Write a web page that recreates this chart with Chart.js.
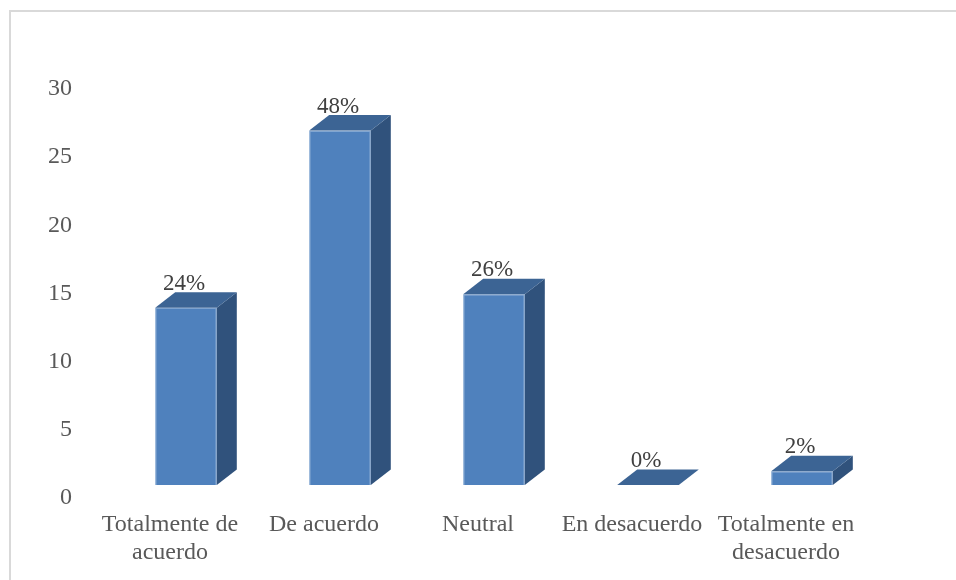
<!DOCTYPE html>
<html>
<head>
<meta charset="utf-8">
<script src="https://cdn.jsdelivr.net/npm/chart.js@4/dist/chart.umd.min.js"></script>
<style>
  html, body { margin: 0; padding: 0; background: #ffffff; }
  #wrap { position: relative; width: 956px; height: 580px; overflow: hidden; }
  canvas { display: block; }
</style>
</head>
<body>
<div id="wrap"><canvas id="c" width="956" height="580"></canvas></div>
<script>
const categories = [["Totalmente de", "acuerdo"], "De acuerdo", "Neutral", "En desacuerdo", ["Totalmente en", "desacuerdo"]];
const counts = [13, 26, 14, 0, 1];
const percentLabels = ["24%", "48%", "26%", "0%", "2%"];
const yTicks = [0, 5, 10, 15, 20, 25, 30];

const FONT = '"Liberation Serif", "Times New Roman", serif';
const FRONT = '#4F81BD';
const TOP = '#3C6494';
const SIDE = '#30527C';
const DX = 20, DY = 15.5;

const frame = {
  id: 'frame',
  beforeDraw(chart) {
    const ctx = chart.ctx;
    ctx.save();
    ctx.fillStyle = '#ffffff';
    ctx.fillRect(0, 0, chart.width, chart.height);
    ctx.strokeStyle = '#d9d9d9';
    ctx.lineWidth = 2;
    ctx.strokeRect(10, 11, chart.width + 20, chart.height + 20);
    ctx.restore();
  }
};

const bars3d = {
  id: 'bars3d',
  afterDatasetsDraw(chart) {
    const ctx = chart.ctx;
    const meta = chart.getDatasetMeta(0);
    ctx.save();
    meta.data.forEach((bar, i) => {
      const p = bar.getProps(['x', 'y', 'base', 'width'], true);
      const x1 = p.x - p.width / 2, x2 = p.x + p.width / 2;
      const yt = p.y, yb = p.base;
      ctx.fillStyle = SIDE;
      ctx.beginPath();
      ctx.moveTo(x2, yt);
      ctx.lineTo(x2 + DX, yt - DY);
      ctx.lineTo(x2 + DX, yb - DY);
      ctx.lineTo(x2, yb);
      ctx.closePath();
      ctx.fill();
      ctx.fillStyle = TOP;
      ctx.beginPath();
      ctx.moveTo(x1, yt);
      ctx.lineTo(x2, yt);
      ctx.lineTo(x2 + DX, yt - DY);
      ctx.lineTo(x1 + DX, yt - DY);
      ctx.closePath();
      ctx.fill();
      ctx.fillStyle = '#404040';
      ctx.font = '23px ' + FONT;
      ctx.textAlign = 'center';
      ctx.textBaseline = 'middle';
      ctx.fillText(percentLabels[i], p.x - 2, yt - DY - 8.5);
    });
    ctx.restore();
  }
};

new Chart(document.getElementById('c'), {
  type: 'bar',
  data: {
    labels: categories,
    datasets: [{
      data: counts,
      backgroundColor: FRONT,
      borderColor: '#6A95C9',
      borderWidth: 1,
      categoryPercentage: 1.0,
      barPercentage: 0.4
    }]
  },
  options: {
    responsive: false,
    animation: false,
    layout: { padding: { left: 0, top: 76, right: 77, bottom: 0 } },
    plugins: { legend: { display: false }, tooltip: { enabled: false } },
    scales: {
      x: {
        grid: { display: false, drawTicks: false },
        border: { display: false },
        ticks: {
          color: '#595959',
          font: { family: FONT, size: 24, lineHeight: 1.17 },
          padding: 26,
          labelOffset: -16,
          maxRotation: 0,
          autoSkip: false
        },
        afterFit(scale) { scale.height = 95; }
      },
      y: {
        min: 0,
        max: 30,
        afterBuildTicks(scale) { scale.ticks = yTicks.map(v => ({ value: v })); },
        grid: { display: false, drawTicks: false },
        border: { display: false },
        ticks: {
          color: '#595959',
          font: { family: FONT, size: 24 },
          padding: 37,
          labelOffset: 13
        },
        afterFit(scale) { scale.width = 109; }
      }
    }
  },
  plugins: [frame, bars3d]
});
</script>
</body>
</html>
